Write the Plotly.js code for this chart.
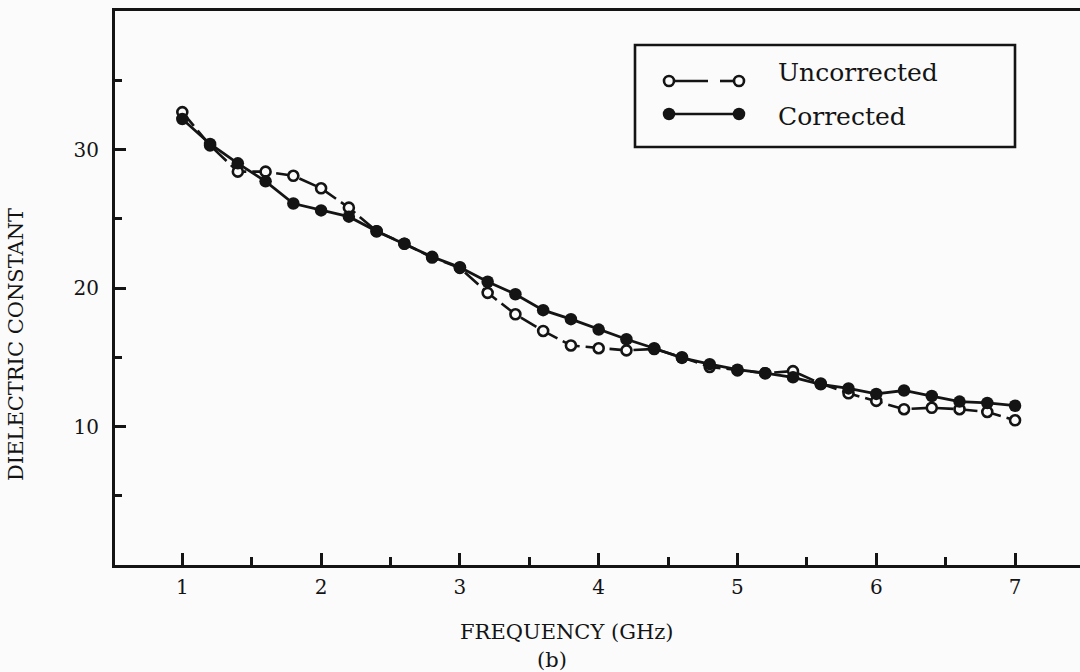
<!DOCTYPE html>
<html>
<head>
<meta charset="utf-8">
<script src="https://cdn.plot.ly/plotly-3.0.1.min.js"></script>
<style>
  html, body { margin: 0; padding: 0; background: #fbfbfb; }
  #chart { width: 1080px; height: 672px; }
</style>
</head>
<body>
<div id="chart"></div>
<script>
// Frequency sweep (GHz)
const freq = [1.0, 1.2, 1.4, 1.6, 1.8, 2.0, 2.2, 2.4, 2.6, 2.8,
              3.0, 3.2, 3.4, 3.6, 3.8, 4.0, 4.2, 4.4, 4.6, 4.8,
              5.0, 5.2, 5.4, 5.6, 5.8, 6.0, 6.2, 6.4, 6.6, 6.8, 7.0];

// Dielectric constant, raw measurement
const uncorrected = [32.7, 30.3, 28.4, 28.4, 28.1, 27.2, 25.8, 24.1, 23.2, 22.2,
                     21.45, 19.65, 18.1, 16.9, 15.85, 15.65, 15.5, 15.6, 15.0, 14.3,
                     14.05, 13.85, 14.0, 13.1, 12.4, 11.85, 11.25, 11.35, 11.25, 11.05, 10.45];

// Dielectric constant after correction
const corrected = [32.2, 30.4, 29.0, 27.7, 26.1, 25.6, 25.15, 24.1, 23.2, 22.25,
                   21.5, 20.45, 19.55, 18.4, 17.75, 17.0, 16.3, 15.65, 14.95, 14.5,
                   14.1, 13.85, 13.55, 13.05, 12.75, 12.35, 12.6, 12.2, 11.8, 11.7, 11.5];

const seriesNames = ['Uncorrected', 'Corrected'];

// Axis ticks
const xTickVals = [1, 2, 3, 4, 5, 6, 7];
const xTickText = ['1', '2', '3', '4', '5', '6', '7'];
const xMinorVals = [1.5, 2.5, 3.5, 4.5, 5.5, 6.5];
const yTickVals = [10, 20, 30];
const yTickText = ['10', '20', '30'];
const yMinorVals = [5, 15, 25, 35];

const xTitle = 'FREQUENCY (GHz)';
const yTitle = 'DIELECTRIC CONSTANT';
const panelLabel = '(b)';

const INK = '#141414';
const BG = '#fbfbfb';
const SERIF = 'DejaVu Serif, Liberation Serif, serif';

// Plot frame in pixels
const W = 1080, H = 672;
const M = { l: 115, r: 0, t: 11, b: 107 };
const plotW = W - M.l - M.r, plotH = H - M.t - M.b;
const px = v => (v - M.l) / plotW;          // page x -> paper x
const py = v => (H - M.b - v) / plotH;      // page y -> paper y

const traces = [
  {
    x: freq, y: uncorrected, name: seriesNames[0],
    type: 'scatter', mode: 'lines+markers',
    line: { color: INK, width: 2.6, dash: '18px,6px' },
    marker: { symbol: 'circle', size: 10, color: BG, line: { color: INK, width: 2.6 } }
  },
  {
    x: freq, y: corrected, name: seriesNames[1],
    type: 'scatter', mode: 'lines+markers',
    line: { color: INK, width: 2.8 },
    marker: { symbol: 'circle', size: 12.5, color: INK, line: { color: INK, width: 0 } }
  }
];

// Hand-built key box
const keyL = 635, keyR = 1015, keyT = 45, keyB = 147;
const row1 = 81, row2 = 114;
const symA = 669, symB = 739;

function dot(xp, yp, d, fill, lw) {
  return {
    type: 'circle', xref: 'paper', yref: 'paper',
    xsizemode: 'pixel', ysizemode: 'pixel',
    xanchor: px(xp), yanchor: py(yp),
    x0: -d / 2, x1: d / 2, y0: -d / 2, y1: d / 2,
    fillcolor: fill, line: { color: INK, width: lw }
  };
}
function seg(x0, x1, y) {
  return {
    type: 'line', xref: 'paper', yref: 'paper',
    x0: px(x0), x1: px(x1), y0: py(y), y1: py(y),
    line: { color: INK, width: 2.6 }
  };
}

const shapes = [
  {
    type: 'rect', xref: 'paper', yref: 'paper',
    x0: px(keyL), x1: px(keyR), y0: py(keyB), y1: py(keyT),
    line: { color: INK, width: 2.6 }, fillcolor: 'rgba(0,0,0,0)'
  },
  seg(symA, 708, row1), seg(720, symB, row1),
  dot(symA, row1, 10, BG, 2.6), dot(symB, row1, 10, BG, 2.6),
  seg(symA, symB, row2),
  dot(symA, row2, 12.5, INK, 0), dot(symB, row2, 12.5, INK, 0)
];

const annotations = [
  { text: seriesNames[0], xref: 'paper', yref: 'paper', x: px(776), y: py(72),
    xanchor: 'left', yanchor: 'middle', showarrow: false,
    font: { family: SERIF, size: 25, color: INK } },
  { text: seriesNames[1], xref: 'paper', yref: 'paper', x: px(776), y: py(116),
    xanchor: 'left', yanchor: 'middle', showarrow: false,
    font: { family: SERIF, size: 25, color: INK } },
  { text: xTitle, xref: 'paper', yref: 'paper', x: px(566), y: py(632),
    xanchor: 'center', yanchor: 'middle', showarrow: false,
    font: { family: SERIF, size: 21, color: INK } },
  { text: panelLabel, xref: 'paper', yref: 'paper', x: px(552), y: py(660),
    xanchor: 'center', yanchor: 'middle', showarrow: false,
    font: { family: SERIF, size: 21, color: INK } },
  { text: yTitle, xref: 'paper', yref: 'paper', x: px(16), y: py(345),
    xanchor: 'center', yanchor: 'middle', textangle: -90, showarrow: false,
    font: { family: SERIF, size: 21, color: INK } }
];

const layout = {
  width: W, height: H,
  margin: { l: M.l, r: M.r, t: M.t, b: M.b, pad: 0 },
  paper_bgcolor: BG, plot_bgcolor: BG,
  showlegend: false,
  xaxis: {
    range: [0.515, 7.468], showgrid: false, zeroline: false,
    showline: true, linecolor: INK, linewidth: 3, mirror: true,
    tickmode: 'array', tickvals: xTickVals, ticktext: xTickText,
    ticks: 'inside', ticklen: 12, tickwidth: 3, tickcolor: INK,
    ticklabelstandoff: 2,
    minor: { tickmode: 'array', tickvals: xMinorVals, ticks: 'inside',
             ticklen: 8, tickwidth: 3, tickcolor: INK, showgrid: false },
    tickfont: { family: SERIF, size: 20, color: INK }
  },
  yaxis: {
    range: [0, 40], showgrid: false, zeroline: false,
    showline: true, linecolor: INK, linewidth: 3, mirror: false,
    tickmode: 'array', tickvals: yTickVals, ticktext: yTickText,
    ticks: 'inside', ticklen: 11, tickwidth: 3, tickcolor: INK,
    ticklabelstandoff: 9,
    minor: { tickmode: 'array', tickvals: yMinorVals, ticks: 'inside',
             ticklen: 7, tickwidth: 3, tickcolor: INK, showgrid: false },
    tickfont: { family: SERIF, size: 20, color: INK }
  },
  shapes: shapes,
  annotations: annotations
};

Plotly.newPlot('chart', traces, layout, { displayModeBar: false, staticPlot: true });
</script>
</body>
</html>
